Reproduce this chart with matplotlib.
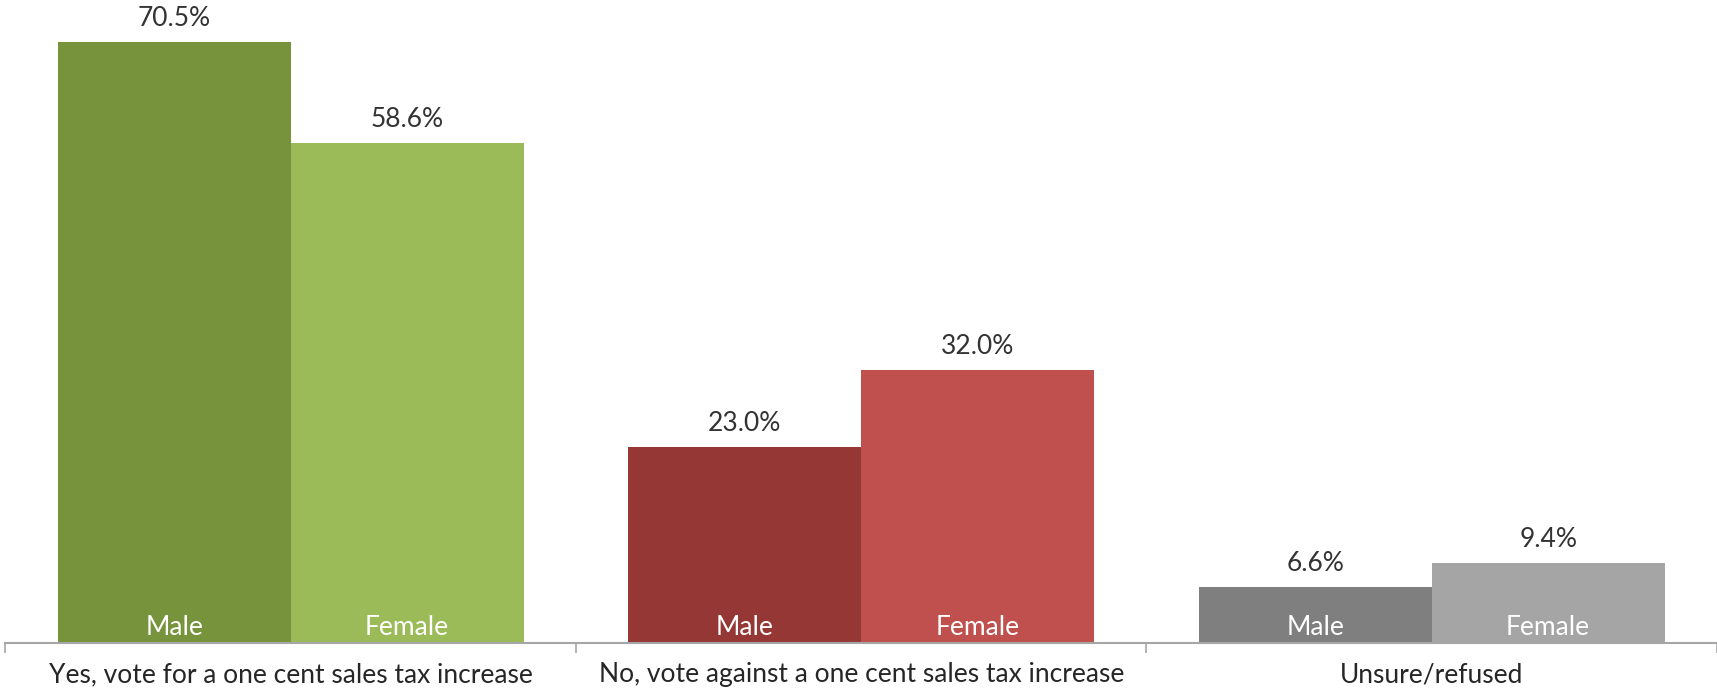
import matplotlib.pyplot as plt
import numpy as np

# survey answers split by gender
categories = ["Yes, vote for a one cent sales tax increase",
              "No, vote against a one cent sales tax increase",
              "Unsure/refused"]
male = [70.5, 23.0, 6.6]
female = [58.6, 32.0, 9.4]

male_colors = ["#77933C", "#953735", "#7F7F7F"]
female_colors = ["#9BBB59", "#C0504D", "#A5A5A5"]

plt.rcParams['font.family'] = ['Lato', 'DejaVu Sans']

fig = plt.figure(figsize=(17.17, 6.91), dpi=100)
ax = fig.add_axes([0.0032, 0.0695, 0.9968, 0.9305])

x = np.arange(len(categories))
w = 0.408
bars_m = ax.bar(x - w / 2, male, w, color=male_colors)
bars_f = ax.bar(x + w / 2, female, w, color=female_colors)

# value labels above each bar, gender label inside at the bottom
for bars, vals, name in [(bars_m, male, "Male"), (bars_f, female, "Female")]:
    for b, v in zip(bars, vals):
        cx = b.get_x() + b.get_width() / 2
        ax.annotate(f"{v:.1f}%", (cx, v), xytext=(0, 8), textcoords="offset points",
                    ha="center", va="bottom", fontsize=19, color="#333333")
        ax.annotate(name, (cx, 0), xytext=(0, 2), textcoords="offset points",
                    ha="center", va="bottom", fontsize=19, color="white")

ax.set_xlim(-0.5, 2.5)
ax.set_ylim(0, 75.4)

for s in ["top", "right", "left"]:
    ax.spines[s].set_visible(False)
ax.spines["bottom"].set_color("#A6A6A6")
ax.spines["bottom"].set_linewidth(1.5)

ax.set_yticks([])
ax.set_xticks(x)
ax.set_xticklabels(categories, fontsize=19, color="#262626")
ax.tick_params(axis="x", which="major", length=0, pad=14)
ax.set_xticks([-0.5, 0.5, 1.5, 2.5], minor=True)
ax.tick_params(axis="x", which="minor", length=7, width=1.2, color="#A6A6A6")

plt.savefig("out.png", dpi=100)
